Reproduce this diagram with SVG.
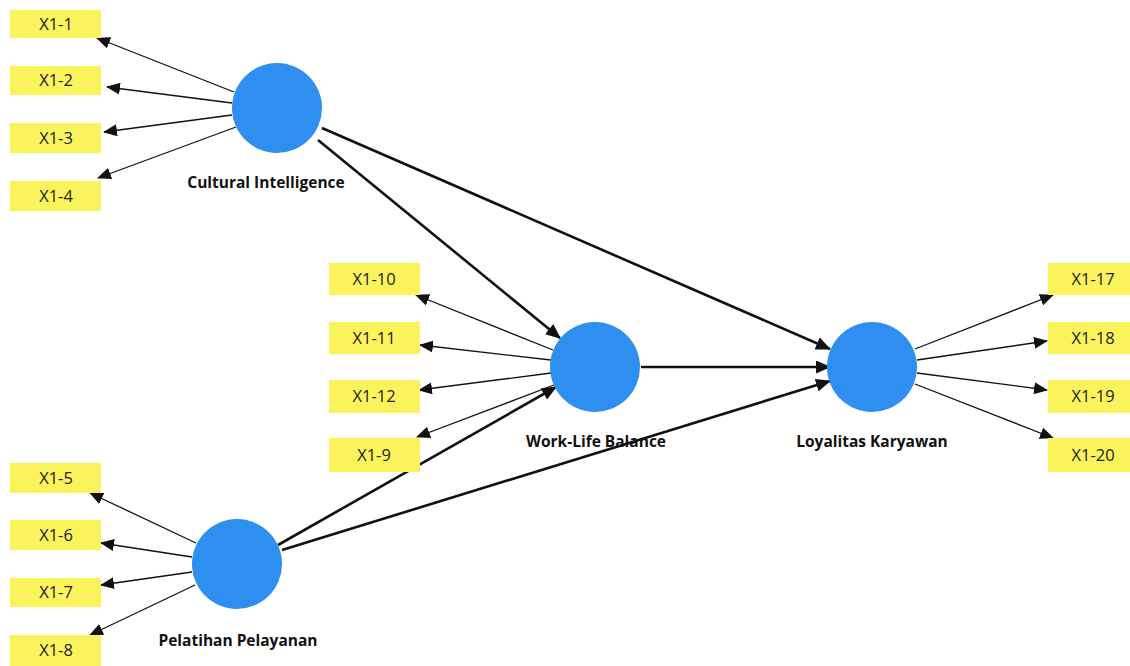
<svg xmlns="http://www.w3.org/2000/svg" width="1130" height="666" viewBox="0 0 1130 666">
<style>
.ind rect{fill:#fbf35c}
.ind text{font-family:"Open Sans","DejaVu Sans",sans-serif;font-size:16.5px;fill:#222;text-anchor:middle}
.lv circle{fill:#2f8ff0}
.lv text{font-family:"Open Sans","DejaVu Sans",sans-serif;font-size:15.5px;font-weight:bold;fill:#111;text-anchor:middle}
.thin{stroke:#111;stroke-width:1.3;fill:none;marker-end:url(#ah)}
.thick{stroke:#111;stroke-width:2.6;fill:none;marker-end:url(#ahb)}
</style>
<defs>
<marker id="ah" markerUnits="userSpaceOnUse" markerWidth="14" markerHeight="12" refX="13" refY="6" orient="auto"><path d="M0,0 L14,6 L0,12 Z" fill="#111"/></marker>
<marker id="ahb" markerUnits="userSpaceOnUse" markerWidth="15" markerHeight="13" refX="14" refY="6.5" orient="auto"><path d="M0,0 L15,6.5 L0,13 Z" fill="#111"/></marker>
</defs>
<rect width="1130" height="666" fill="#fff"/>
<g id="connectors">
<line class="thin" x1="234" y1="92" x2="97" y2="38"/>
<line class="thin" x1="232" y1="103" x2="107" y2="87"/>
<line class="thin" x1="232" y1="115" x2="104" y2="132"/>
<line class="thin" x1="236" y1="127" x2="98" y2="178"/>
<line class="thin" x1="553" y1="350" x2="416" y2="295"/>
<line class="thin" x1="551" y1="360" x2="420" y2="345"/>
<line class="thin" x1="551" y1="373" x2="419" y2="390"/>
<line class="thin" x1="554" y1="385" x2="417" y2="437"/>
<line class="thin" x1="915" y1="349" x2="1053" y2="295"/>
<line class="thin" x1="917" y1="360" x2="1047" y2="341"/>
<line class="thin" x1="917" y1="373" x2="1047" y2="390"/>
<line class="thin" x1="915" y1="384" x2="1053" y2="438"/>
<line class="thin" x1="196" y1="543" x2="90" y2="493"/>
<line class="thin" x1="192" y1="557" x2="101" y2="543"/>
<line class="thin" x1="192" y1="572" x2="101" y2="585"/>
<line class="thin" x1="195" y1="585" x2="90" y2="635"/>
<line class="thick" x1="318" y1="140" x2="560" y2="338"/>
<line class="thick" x1="322" y1="128" x2="830" y2="349"/>
<line class="thick" x1="641" y1="367" x2="830" y2="367"/>
<line class="thick" x1="278" y1="545" x2="556" y2="387"/>
<line class="thick" x1="282" y1="550" x2="830" y2="381"/>
</g>
<g id="X1-1" class="ind"><rect x="10" y="10" width="91" height="28"/><text x="56" y="30">X1-1</text></g>
<g id="X1-2" class="ind"><rect x="10" y="66" width="91" height="29"/><text x="56" y="86">X1-2</text></g>
<g id="X1-3" class="ind"><rect x="10" y="123" width="91" height="30"/><text x="56" y="144">X1-3</text></g>
<g id="X1-4" class="ind"><rect x="10" y="181" width="91" height="30"/><text x="56" y="202">X1-4</text></g>
<g id="X1-10" class="ind"><rect x="329" y="263" width="91" height="32"/><text x="374" y="285">X1-10</text></g>
<g id="X1-11" class="ind"><rect x="329" y="322" width="91" height="32"/><text x="374" y="344">X1-11</text></g>
<g id="X1-12" class="ind"><rect x="329" y="380" width="91" height="33"/><text x="374" y="402">X1-12</text></g>
<g id="X1-9" class="ind"><rect x="329" y="438" width="91" height="34"/><text x="374" y="461">X1-9</text></g>
<g id="X1-17" class="ind"><rect x="1048" y="263" width="82" height="32"/><text x="1093" y="285">X1-17</text></g>
<g id="X1-18" class="ind"><rect x="1048" y="322" width="82" height="32"/><text x="1093" y="344">X1-18</text></g>
<g id="X1-19" class="ind"><rect x="1048" y="380" width="82" height="33"/><text x="1093" y="402">X1-19</text></g>
<g id="X1-20" class="ind"><rect x="1048" y="438" width="82" height="34"/><text x="1093" y="461">X1-20</text></g>
<g id="X1-5" class="ind"><rect x="10" y="463" width="91" height="30"/><text x="56" y="484">X1-5</text></g>
<g id="X1-6" class="ind"><rect x="10" y="520" width="91" height="30"/><text x="56" y="541">X1-6</text></g>
<g id="X1-7" class="ind"><rect x="10" y="578" width="91" height="29"/><text x="56" y="598">X1-7</text></g>
<g id="X1-8" class="ind"><rect x="10" y="635" width="91" height="31"/><text x="56" y="656">X1-8</text></g>
<g id="cultural-intelligence" class="lv"><circle cx="277" cy="108" r="45"/><text x="266" y="188">Cultural Intelligence</text></g>
<g id="work-life-balance" class="lv"><circle cx="595" cy="367" r="45"/><text x="596" y="447">Work-Life Balance</text></g>
<g id="loyalitas-karyawan" class="lv"><circle cx="872" cy="367" r="45"/><text x="872" y="447">Loyalitas Karyawan</text></g>
<g id="pelatihan-pelayanan" class="lv"><circle cx="237" cy="564" r="45"/><text x="238" y="646">Pelatihan Pelayanan</text></g>
</svg>
